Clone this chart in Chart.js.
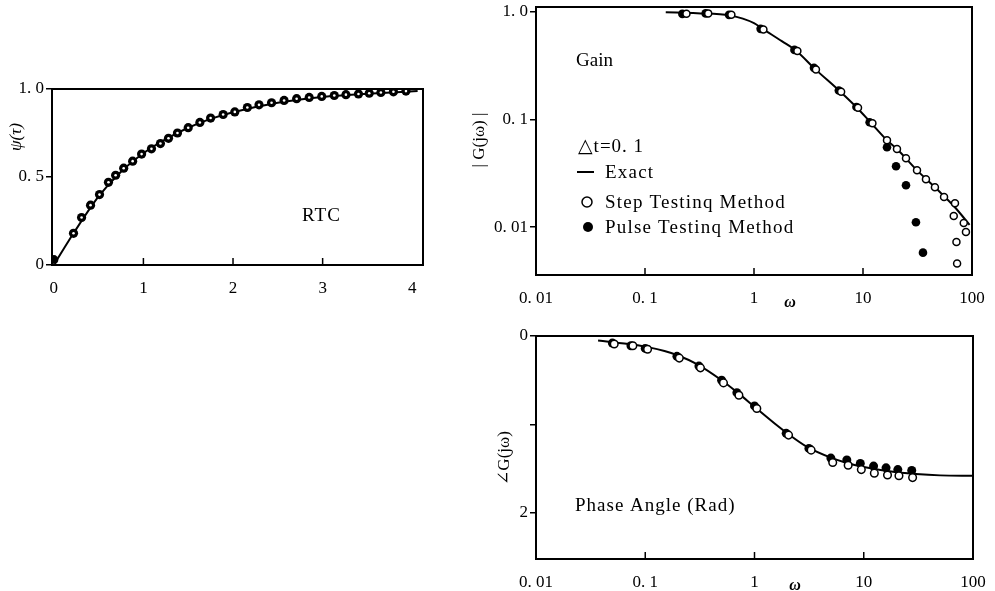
<!DOCTYPE html>
<html>
<head>
<meta charset="utf-8">
<script src="https://cdn.jsdelivr.net/npm/chart.js@4/dist/chart.umd.min.js"></script>
<style>
  body { margin: 0; background: #fff; width: 995px; height: 591px; overflow: hidden; position: relative; }
  canvas { position: absolute; }
</style>
</head>
<body>
<canvas id="rtcChart" width="440" height="240" style="left:0;top:70px"></canvas>
<canvas id="gainChart" width="525" height="310" style="left:470px;top:0"></canvas>
<canvas id="phaseChart" width="525" height="271" style="left:470px;top:320px"></canvas>
<script>
// RTC response
const rtcTau = [0, 0.22, 0.31, 0.41, 0.51, 0.61, 0.69, 0.78, 0.88, 0.98, 1.09, 1.19, 1.28, 1.38, 1.5, 1.63, 1.75, 1.89, 2.02, 2.16, 2.29, 2.43, 2.57, 2.71, 2.85, 2.99, 3.13, 3.26, 3.4, 3.52, 3.65, 3.79, 3.93];
const rtcPulse = [0.03, 0.18, 0.27, 0.34, 0.40, 0.47, 0.51, 0.55, 0.59, 0.63, 0.66, 0.69, 0.72, 0.75, 0.78, 0.81, 0.835, 0.855, 0.87, 0.895, 0.91, 0.922, 0.935, 0.945, 0.952, 0.958, 0.963, 0.968, 0.972, 0.976, 0.98, 0.984, 0.988];
const rtcStep = [0.0, 0.18, 0.27, 0.34, 0.40, 0.47, 0.51, 0.55, 0.59, 0.63, 0.66, 0.69, 0.72, 0.75, 0.78, 0.81, 0.835, 0.855, 0.87, 0.895, 0.91, 0.922, 0.935, 0.945, 0.952, 0.958, 0.963, 0.968, 0.972, 0.976, 0.98, 0.984, 0.988];
const rtcExactTau = [0, 0.22, 0.5, 0.75, 1, 1.25, 1.5, 1.75, 2, 2.5, 3, 3.5, 4.06];
const rtcExactPsi = [0, 0.18, 0.39, 0.53, 0.635, 0.715, 0.78, 0.83, 0.868, 0.922, 0.955, 0.973, 0.988];
const rtcXTicks = [0, 1, 2, 3, 4];
const rtcXLabels = ['0', '1', '2', '3', '4'];
const rtcYTicks = [0, 0.5, 1];
const rtcYLabels = ['0', '0. 5', '1. 0'];

// Gain |G(jw)|
const gainStepW = [0.24, 0.38, 0.62, 1.22, 2.5, 3.7, 6.3, 9.0, 12.2, 16.6, 20.5, 24.8, 31.3, 37.8, 45.7, 55.4, 69.8, 68, 84, 88, 72, 73];
const gainStepG = [0.95, 0.96, 0.93, 0.68, 0.43, 0.29, 0.18, 0.128, 0.092, 0.064, 0.053, 0.0435, 0.0337, 0.0278, 0.0234, 0.019, 0.0167, 0.0127, 0.0109, 0.009, 0.0073, 0.0046];
const gainPulseW = [0.22, 0.36, 0.59, 1.15, 2.35, 3.55, 6.0, 8.7, 11.5, 16.6, 20.1, 24.8, 30.6, 35.5];
const gainPulseG = [0.95, 0.96, 0.93, 0.69, 0.44, 0.30, 0.185, 0.13, 0.094, 0.055, 0.0367, 0.0245, 0.0111, 0.0058];
const gainExactW = [0.155, 0.3, 0.6, 1.0, 1.2, 1.8, 2.45, 3.6, 6.2, 8.8, 11.8, 16.6, 20.5, 31, 45, 55, 70, 95];
const gainExactG = [0.985, 0.965, 0.92, 0.78, 0.69, 0.53, 0.43, 0.295, 0.18, 0.128, 0.093, 0.064, 0.053, 0.034, 0.0238, 0.0195, 0.0152, 0.0105];
const gainYTicks = [0.01, 0.1, 1];
const gainYLabels = ['0. 01', '0. 1', '1. 0'];

// Phase angle (rad)
const phasePulseW = [0.05, 0.074, 0.1, 0.195, 0.31, 0.5, 0.69, 1.0, 1.95, 3.15, 5.0, 7.0, 9.3, 12.3, 16, 20.5, 27.5];
const phasePulseA = [0.08, 0.11, 0.14, 0.23, 0.34, 0.50, 0.64, 0.79, 1.10, 1.27, 1.38, 1.40, 1.44, 1.47, 1.49, 1.51, 1.52];
const phaseStepW = [0.052, 0.077, 0.105, 0.205, 0.32, 0.52, 0.72, 1.05, 2.05, 3.3, 5.2, 7.2, 9.5, 12.5, 16.5, 21, 28];
const phaseStepA = [0.09, 0.11, 0.15, 0.25, 0.36, 0.53, 0.67, 0.82, 1.12, 1.29, 1.43, 1.46, 1.51, 1.55, 1.57, 1.58, 1.60];
const phaseExactW = [0.037, 0.05, 0.07, 0.1, 0.15, 0.2, 0.3, 0.5, 0.7, 1, 1.5, 2, 3, 5, 7, 10, 20, 30, 50, 100];
const phaseExactA = [0.05, 0.07, 0.09, 0.12, 0.17, 0.22, 0.32, 0.5, 0.64, 0.8, 0.98, 1.1, 1.25, 1.375, 1.435, 1.48, 1.54, 1.56, 1.575, 1.58];
const phaseYTicks = [0, 1, 2];
const phaseYLabels = ['0', '', '2'];

const omegaTicks = [0.01, 0.1, 1, 10, 100];
const omegaLabels = ['0. 01', '0. 1', '1', '10', '100'];

const SERIF = '"Liberation Serif", "DejaVu Serif", serif';

function pts(xs, ys) {
    return xs.map((x, i) => ({ x: x, y: ys[i] }));
}

// frame, inner ticks, free texts and legend symbols
const decorPlugin = {
    id: 'decor',
    afterDraw(chart, args, opts) {
        const ctx = chart.ctx;
        const a = chart.chartArea;
        ctx.save();
        ctx.strokeStyle = '#000';
        ctx.fillStyle = '#000';

        ctx.lineWidth = 2;
        ctx.strokeRect(a.left, a.top, a.right - a.left, a.bottom - a.top);

        ctx.lineWidth = 1.5;
        const xs = chart.scales.x;
        (opts.innerTicks || []).forEach(v => {
            const px = xs.getPixelForValue(v);
            ctx.beginPath();
            ctx.moveTo(px, a.bottom);
            ctx.lineTo(px, a.bottom - 7);
            ctx.stroke();
        });

        (opts.symbols || []).forEach(s => {
            ctx.beginPath();
            if (s.type === 'line') {
                ctx.lineWidth = 2;
                ctx.moveTo(s.x, s.y);
                ctx.lineTo(s.x + 17, s.y);
                ctx.stroke();
            } else {
                ctx.arc(s.x, s.y, 5, 0, Math.PI * 2);
                if (s.type === 'filled') {
                    ctx.fill();
                } else {
                    ctx.lineWidth = 1.5;
                    ctx.stroke();
                }
            }
        });

        (opts.texts || []).forEach(t => {
            ctx.save();
            ctx.font = (t.style || '') + ' ' + (t.size || 18) + 'px ' + SERIF;
            ctx.letterSpacing = (t.spacing || 0) + 'px';
            ctx.textBaseline = t.rotate ? 'middle' : 'alphabetic';
            ctx.textAlign = t.align || 'left';
            ctx.translate(t.x, t.y);
            if (t.rotate) ctx.rotate(-Math.PI / 2);
            ctx.fillText(t.text, 0, 0);
            ctx.restore();
        });
        ctx.restore();
    }
};

function xAxis(type, min, max, ticks, labels, height) {
    return {
        type: type,
        min: min,
        max: max,
        afterBuildTicks: s => { s.ticks = ticks.map(v => ({ value: v })); },
        afterFit: s => { s.height = height; s.paddingLeft = 0; s.paddingRight = 0; },
        grid: { display: false },
        border: { display: false },
        ticks: {
            autoSkip: false, maxRotation: 0, padding: 5, color: '#000',
            font: { family: SERIF, size: 17 },
            callback: (v, i) => labels[i]
        }
    };
}

function yAxis(type, min, max, ticks, labels, width, reverse) {
    return {
        type: type,
        min: min,
        max: max,
        reverse: !!reverse,
        afterBuildTicks: s => { s.ticks = ticks.map(v => ({ value: v })); },
        afterFit: s => { s.width = width; s.paddingTop = 0; s.paddingBottom = 0; },
        grid: { display: true, drawOnChartArea: false, drawTicks: true, tickLength: 6, color: '#000', lineWidth: 1.5 },
        border: { display: false },
        ticks: {
            autoSkip: false, padding: 2, color: '#000',
            font: { family: SERIF, size: 17 },
            callback: (v, i) => labels[i]
        }
    };
}

function openSet(data, r, bw) {
    return { data: data, showLine: false, pointStyle: 'circle', pointRadius: r, pointBorderWidth: bw,
             pointBackgroundColor: '#fff', pointBorderColor: '#000' };
}
function filledSet(data, r) {
    return { data: data, showLine: false, pointStyle: 'circle', pointRadius: r, pointBorderWidth: 0,
             pointBackgroundColor: '#000', pointBorderColor: '#000' };
}
function lineSet(data) {
    return { data: data, showLine: true, pointRadius: 0, borderColor: '#000', borderWidth: 2,
             cubicInterpolationMode: 'monotone', fill: false };
}

const baseOptions = {
    responsive: false,
    animation: false,
    devicePixelRatio: 1,
    events: []
};

// RTC chart: black blobs with a small white spot
new Chart(document.getElementById('rtcChart'), {
    type: 'scatter',
    data: {
        datasets: [
            openSet(pts(rtcTau, rtcStep), 1.3, 0),
            filledSet(pts(rtcTau, rtcPulse), 4.6),
            lineSet(pts(rtcExactTau, rtcExactPsi))
        ]
    },
    options: Object.assign({}, baseOptions, {
        layout: { padding: { left: 0, right: 17, top: 19, bottom: 0 } },
        scales: {
            x: xAxis('linear', -0.02, 4.12, rtcXTicks, rtcXLabels, 45),
            y: yAxis('linear', 0, 1, rtcYTicks, rtcYLabels, 52)
        },
        plugins: {
            legend: { display: false },
            tooltip: { enabled: false },
            decor: {
                innerTicks: [1, 2, 3],
                texts: [
                    { text: 'RTC', x: 302, y: 151, size: 19, spacing: 1 },
                    { text: 'ψ(τ)', x: 17, y: 67, size: 17, style: 'italic', rotate: true, align: 'center' }
                ]
            }
        }
    }),
    plugins: [decorPlugin]
});

// Gain chart
new Chart(document.getElementById('gainChart'), {
    type: 'scatter',
    data: {
        datasets: [
            openSet(pts(gainStepW, gainStepG), 3.5, 1.5),
            filledSet(pts(gainPulseW, gainPulseG), 4.3),
            lineSet(pts(gainExactW, gainExactG))
        ]
    },
    options: Object.assign({}, baseOptions, {
        layout: { padding: { left: 0, right: 23, top: 7, bottom: 0 } },
        scales: {
            x: xAxis('logarithmic', 0.01, 100, omegaTicks, omegaLabels, 35),
            y: yAxis('logarithmic', 0.0036, 1.1, gainYTicks, gainYLabels, 66)
        },
        plugins: {
            legend: { display: false },
            tooltip: { enabled: false },
            decor: {
                innerTicks: [0.1, 1, 10],
                symbols: [
                    { type: 'line', x: 107, y: 172 },
                    { type: 'open', x: 117, y: 202 },
                    { type: 'filled', x: 118, y: 227 }
                ],
                texts: [
                    { text: 'Gain', x: 106, y: 66, size: 19 },
                    { text: '△t=0. 1', x: 108, y: 152, size: 19, spacing: 1 },
                    { text: 'Exact', x: 135, y: 178, size: 19, spacing: 1.2 },
                    { text: 'Step Testinq Method', x: 135, y: 208, size: 19, spacing: 1.2 },
                    { text: 'Pulse Testinq Method', x: 135, y: 233, size: 19, spacing: 1.2 },
                    { text: '| G(jω) |', x: 10, y: 140, size: 17, rotate: true, align: 'center' },
                    { text: 'ω', x: 320, y: 307, size: 16, style: 'italic bold', align: 'center' }
                ]
            }
        }
    }),
    plugins: [decorPlugin]
});

// Phase chart
new Chart(document.getElementById('phaseChart'), {
    type: 'scatter',
    data: {
        datasets: [
            openSet(pts(phaseStepW, phaseStepA), 3.8, 1.5),
            filledSet(pts(phasePulseW, phasePulseA), 4.5),
            lineSet(pts(phaseExactW, phaseExactA))
        ]
    },
    options: Object.assign({}, baseOptions, {
        layout: { padding: { left: 0, right: 22, top: 16, bottom: 0 } },
        scales: {
            x: xAxis('logarithmic', 0.01, 100, omegaTicks, omegaLabels, 32),
            y: yAxis('linear', 0, 2.52, phaseYTicks, phaseYLabels, 66, true)
        },
        plugins: {
            legend: { display: false },
            tooltip: { enabled: false },
            decor: {
                innerTicks: [0.1, 1, 10],
                texts: [
                    { text: 'Phase Angle (Rad)', x: 105, y: 191, size: 19, spacing: 1 },
                    { text: '∠G(jω)', x: 35, y: 138, size: 17, rotate: true, align: 'center' },
                    { text: 'ω', x: 325, y: 270, size: 16, style: 'italic bold', align: 'center' }
                ]
            }
        }
    }),
    plugins: [decorPlugin]
});
</script>
</body>
</html>
